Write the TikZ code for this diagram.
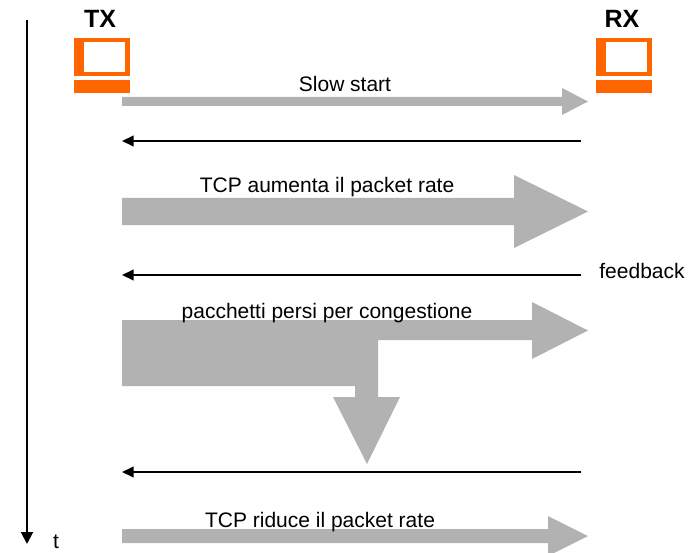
\documentclass[tikz,border=0pt]{standalone}
\usepackage{fontspec}
\setmainfont{Liberation Sans}
\usepackage{tikz}
\usetikzlibrary{arrows.meta, positioning}

\definecolor{pcorange}{RGB}{255,102,0}
\definecolor{flowgray}{RGB}{178,178,178}

\tikzset{
    label/.style={inner sep=0pt, anchor=base, font=\fontsize{21}{25}\selectfont},
    endpoint/.style={inner sep=0pt, anchor=base, font=\fontsize{25}{30}\selectfont\bfseries},
    flow/.style={fill=flowgray},
    ack/.style={line width=2pt, -{Triangle[length=11.5pt,width=10.5pt]}},
}

% block arrow: {y centre}{shaft half height}{head half height}{head base x}
\newcommand{\flowarrow}[4]{%
    \fill[flow] (122,{#1-#2}) -- (#4,{#1-#2}) -- (#4,{#1-#3}) -- (588,#1)
        -- (#4,{#1+#3}) -- (#4,{#1+#2}) -- (122,{#1+#2}) -- cycle;}

% orange terminal at left edge #1
\newcommand{\terminal}[1]{%
    \fill[pcorange] (#1,38) rectangle ++(56,38);
    \fill[white] ({#1+10},42) rectangle ++(41,30);
    \fill[pcorange] (#1,80) rectangle ++(56,13);}

\begin{document}
\begin{tikzpicture}[x=1pt, y=-1pt]
        \useasboundingbox (0,0) rectangle (695,553);

        % time axis
        \coordinate (t_start) at (27,20);
        \coordinate (t_end)   at (27,544);
        \draw[line width=2pt, -{Triangle[length=12pt,width=12pt]}] (t_start) -- (t_end);
        \node[label] (t) at (56,548) {t};

        % terminals
        \terminal{74}
        \terminal{596}
        \node[endpoint] (tx) at (100,28) {TX};
        \node[endpoint] (rx) at (622,28) {RX};

        % slow start
        \flowarrow{101.5}{4.5}{13.5}{562}
        \node[label] (slow) at (345,92) {Slow start};

        \coordinate (ack1_rx) at (581,141);
        \coordinate (ack1_tx) at (122,141);
        \draw[ack] (ack1_rx) -- (ack1_tx);

        % rate up
        \flowarrow{211.5}{13.5}{36.5}{514}
        \node[label] (rateup) at (327,193) {TCP aumenta il packet rate};

        \coordinate (ack2_rx) at (581,275);
        \coordinate (ack2_tx) at (122,275);
        \draw[ack] (ack2_rx) -- (ack2_tx);
        \node[label] (feedback) at (642,278) {feedback};

        % congestion: part goes on, part is lost
        \fill[flow] (122,320) -- (532,320) -- (532,302) -- (588,330.5) -- (532,359)
            -- (532,340) -- (378,340) -- (378,397) -- (400,397) -- (367,464)
            -- (333,397) -- (355,397) -- (355,386) -- (122,386) -- cycle;
        \node[label] (lost) at (327,318) {pacchetti persi per congestione};

        \coordinate (ack3_rx) at (581,472);
        \coordinate (ack3_tx) at (122,472);
        \draw[ack] (ack3_rx) -- (ack3_tx);

        % rate down
        \flowarrow{536}{7}{20}{548}
        \node[label] (ratedown) at (320,527) {TCP riduce il packet rate};
    \end{tikzpicture}
\end{document}
